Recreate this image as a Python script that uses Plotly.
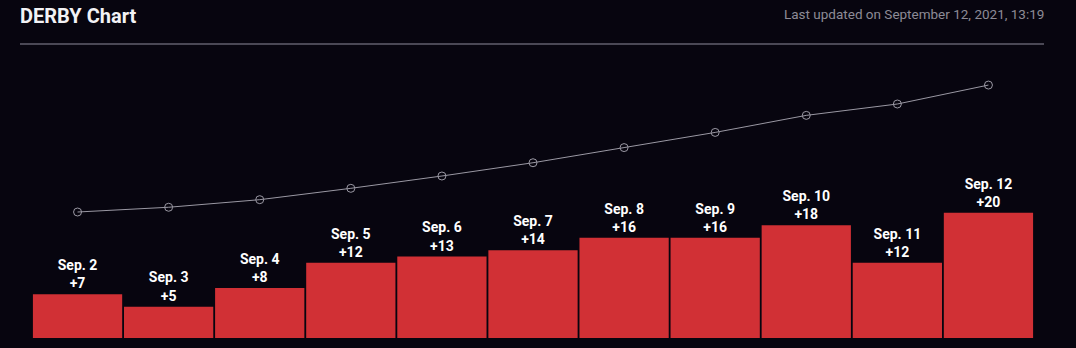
import plotly.graph_objects as go

dates = ["Sep. 2", "Sep. 3", "Sep. 4", "Sep. 5", "Sep. 6", "Sep. 7",
         "Sep. 8", "Sep. 9", "Sep. 10", "Sep. 11", "Sep. 12"]
daily = [7, 5, 8, 12, 13, 14, 16, 16, 18, 12, 20]
totals = [133, 138, 146, 158, 171, 185, 201, 217, 235, 247, 267]

title_text = "DERBY Chart"
updated_text = "Last updated on September 12, 2021, 13:19"

W, H = 1076, 348
L, R, T, B = 32, 42, 50, 10
pw = W - L - R
ph = H - T - B

def px_x(x):
    return (x - L) / pw

def px_y(y):
    return (H - B - y) / ph

labels = [f"<b>{d}<br>+{v}</b>" for d, v in zip(dates, daily)]

fig = go.Figure()
fig.add_trace(go.Bar(
    x=dates, y=daily, text=labels, textposition="outside",
    textfont=dict(color="white", size=14, family="Roboto"),
    marker=dict(color="#d13035", line=dict(width=0)),
    cliponaxis=False, hoverinfo="skip",
))
fig.add_trace(go.Scatter(
    x=dates, y=totals, yaxis="y2", mode="lines+markers",
    line=dict(color="#9a98a3", width=1),
    marker=dict(symbol="circle-open", size=8, color="#9a98a3", line=dict(width=1)),
    hoverinfo="skip",
))

fig.update_layout(
    width=W, height=H,
    margin=dict(l=L, r=R, t=T, b=B),
    paper_bgcolor="#07050f", plot_bgcolor="#07050f",
    showlegend=False, bargap=0.02,
    xaxis=dict(visible=False, range=[-0.5, len(dates) - 0.5]),
    yaxis=dict(visible=False, range=[0, 46]),
    yaxis2=dict(visible=False, range=[0, 304], overlaying="y"),
    shapes=[dict(type="line", xref="paper", yref="paper",
                 x0=px_x(20), x1=px_x(1044), y0=px_y(44), y1=px_y(44),
                 line=dict(color="#4a4855", width=2))],
    annotations=[
        dict(text=f"<b>{title_text}</b>", xref="paper", yref="paper",
             x=px_x(18), y=px_y(16), xanchor="left", yanchor="middle",
             showarrow=False, font=dict(color="#f2f2f5", size=20, family="Roboto")),
        dict(text=updated_text, xref="paper", yref="paper",
             x=px_x(1046), y=px_y(14), xanchor="right", yanchor="middle",
             showarrow=False, font=dict(color="#8d8b96", size=13.5, family="Roboto")),
    ],
)

fig.write_html("out.html", config={"displayModeBar": False})
